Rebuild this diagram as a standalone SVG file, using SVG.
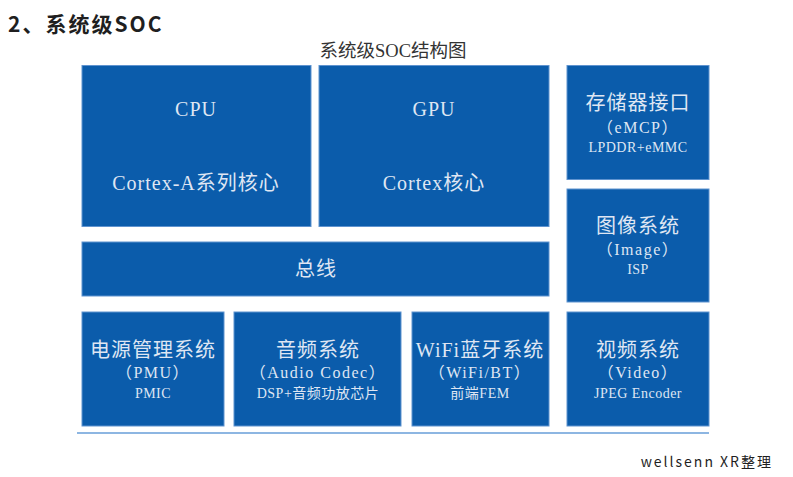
<svg xmlns="http://www.w3.org/2000/svg" width="793" height="477" viewBox="0 0 793 477">
<style>
.box{fill:#0b5cab;stroke:#5f93cf;stroke-width:1}
.t{font-family:"Liberation Serif","Noto Sans CJK SC",serif;fill:#dfe6f3;text-anchor:middle}
.l{font-family:"Liberation Serif",serif}
.c{font-family:"Noto Sans CJK SC",sans-serif}
.big{font-size:20px;letter-spacing:1px}
.mid{font-size:16px;letter-spacing:1.5px}
.sm{font-size:14px;letter-spacing:0.5px}
</style>
<rect width="793" height="477" fill="#ffffff"/>
<text x="8" y="32" font-family="'Noto Sans CJK SC','Noto Sans',sans-serif" font-weight="bold" font-size="21" letter-spacing="2" fill="#1f1f1f">2、系统级SOC</text>
<text x="393" y="57" font-size="18.5" fill="#333" text-anchor="middle"><tspan font-family="'Noto Sans CJK SC',sans-serif">系统级</tspan><tspan font-family="'Liberation Serif',serif">SOC</tspan><tspan font-family="'Noto Sans CJK SC',sans-serif">结构图</tspan></text>
<g id="connectors">
<line x1="77" y1="433" x2="709" y2="433" stroke="#8db6e2" stroke-width="2"/>
</g>
<g id="cpu"><rect class="box" x="82" y="65.5" width="229" height="161"/><text class="t big" x="196" y="116">CPU</text><text class="t big" x="196" y="190"><tspan class="l">Cortex-A</tspan><tspan class="c">系列核心</tspan></text></g>
<g id="gpu"><rect class="box" x="319" y="65.5" width="230" height="161"/><text class="t big" x="434" y="116">GPU</text><text class="t big" x="434" y="190"><tspan class="l">Cortex</tspan><tspan class="c">核心</tspan></text></g>
<g id="storage"><rect class="box" x="567" y="65.5" width="142" height="114"/><text class="t big" x="638" y="110">存储器接口</text><text class="t mid" x="638" y="133">（eMCP）</text><text class="t sm" x="638" y="152">LPDDR+eMMC</text></g>
<g id="image"><rect class="box" x="567" y="189" width="142" height="113"/><text class="t big" x="638" y="233">图像系统</text><text class="t mid" x="638" y="255">（Image）</text><text class="t sm" x="638" y="274">ISP</text></g>
<g id="bus"><rect class="box" x="82" y="242" width="467" height="54"/><text class="t big" x="316" y="276">总线</text></g>
<g id="pmu"><rect class="box" x="82" y="312" width="142" height="114"/><text class="t big" x="153" y="357">电源管理系统</text><text class="t mid" x="153" y="378">（PMU）</text><text class="t sm" x="153" y="398">PMIC</text></g>
<g id="audio"><rect class="box" x="234" y="312" width="167" height="114"/><text class="t big" x="318" y="357">音频系统</text><text class="t mid" x="318" y="378">（Audio Codec）</text><text class="t sm" x="318" y="398"><tspan class="l">DSP+</tspan><tspan class="c">音频功放芯片</tspan></text></g>
<g id="wifi"><rect class="box" x="412" y="312" width="137" height="114"/><text class="t big" x="480" y="357"><tspan class="l">WiFi</tspan><tspan class="c">蓝牙系统</tspan></text><text class="t mid" x="480" y="378">（WiFi/BT）</text><text class="t sm" x="480" y="398"><tspan class="c">前端</tspan><tspan class="l">FEM</tspan></text></g>
<g id="video"><rect class="box" x="567" y="312" width="142" height="114"/><text class="t big" x="638" y="357">视频系统</text><text class="t mid" x="638" y="378">（Video）</text><text class="t sm" x="638" y="398">JPEG Encoder</text></g>
<text x="773" y="467" font-family="'Noto Sans CJK SC','Noto Sans',sans-serif" font-size="14" letter-spacing="2" fill="#1f1f1f" text-anchor="end">wellsenn XR整理</text>
</svg>
